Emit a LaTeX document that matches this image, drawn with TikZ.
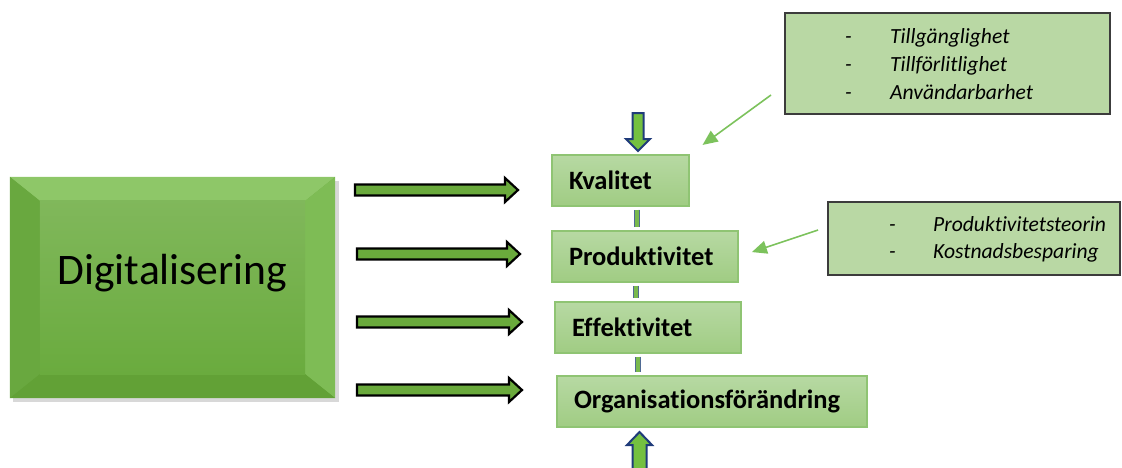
\documentclass[tikz,border=0pt]{standalone}
\usepackage{fontspec}
\setmainfont{Carlito}[Ligatures=NoCommon]
\usetikzlibrary{arrows.meta,calc}

\definecolor{bigfill}{HTML}{6AAB3E}
\definecolor{bigtop}{HTML}{8EC768}
\definecolor{bigleft}{HTML}{69A83F}
\definecolor{bigright}{HTML}{7EBC55}
\definecolor{bigbottom}{HTML}{62A136}
\definecolor{stagetop}{HTML}{B7D9A3}
\definecolor{stagebot}{HTML}{A0CC83}
\definecolor{stageline}{HTML}{8FC473}
\definecolor{notefill}{HTML}{B9D8A4}
\definecolor{noteline}{HTML}{3C3C3C}
\definecolor{pointergreen}{HTML}{7CC25C}
\definecolor{flowfill}{HTML}{6AAA3C}
\definecolor{inputfill}{HTML}{74C040}
\definecolor{inputline}{HTML}{1F3B7A}
\definecolor{linkline}{HTML}{4F6A94}
\definecolor{linkfill}{HTML}{79B94D}

% right-pointing block arrow: \flowarrow{x start}{x tip}{y}
\newcommand\flowarrow[3]{%
  \draw[flowarrowstyle]
    (#1,#3-5.5) -- (#2-13,#3-5.5) -- (#2-13,#3-12) -- (#2,#3)
    -- (#2-13,#3+12) -- (#2-13,#3+5.5) -- (#1,#3+5.5) -- cycle;}

\tikzset{
  flowarrowstyle/.style={draw=black, line width=2.2pt, fill=flowfill, line join=miter},
  stage/.style={draw=stageline, line width=1.3pt, top color=stagetop, bottom color=stagebot,
    minimum height=51pt, inner xsep=17pt, inner ysep=0pt, align=left,
    font=\bfseries\fontsize{26.5}{30}\selectfont},
  note/.style={draw=noteline, line width=1.4pt, fill=notefill, inner sep=0pt},
  notetext/.style={align=left, inner sep=0pt, font=\itshape\fontsize{21.6}{28}\selectfont},
  pointer/.style={draw=pointergreen, line width=1.6pt,
    -{Triangle[length=15pt,width=13pt]}},
  inputarrow/.style={draw=inputline, line width=2pt, fill=inputfill, line join=miter},
  link/.style={draw=linkline, line width=1.2pt, double=linkfill, double distance=3.6pt,
    shorten <=3pt, shorten >=3pt},
}

\begin{document}
\begin{tikzpicture}[x=1pt, y=-1pt]
\useasboundingbox (0,0) rectangle (1122,467);
\begin{scope}
\clip (0,0) rectangle (1122,467);

% --- bevelled source block ---
\fill[black!30, opacity=0.5] (13,181) rectangle (339,402);
\node[draw=none, fill=bigfill, minimum width=325pt, minimum height=221pt, inner sep=0pt]
  (dig) at (172.5,287.5) {};
\fill[bigtop]    (dig.north west) -- (dig.north east) -- ++(-30,24) -- ($(dig.north west)+(30,24)$) -- cycle;
\fill[bigleft]   (dig.north west) -- ($(dig.north west)+(30,24)$) -- ($(dig.south west)+(30,-24)$) -- (dig.south west) -- cycle;
\fill[bigright]  (dig.north east) -- ($(dig.north east)+(-30,24)$) -- ($(dig.south east)+(-30,-24)$) -- (dig.south east) -- cycle;
\fill[bigbottom] (dig.south west) -- ($(dig.south west)+(30,-24)$) -- ($(dig.south east)+(-30,-24)$) -- (dig.south east) -- cycle;
\shade[top color=bigfill!85!white, bottom color=bigfill]
  ($(dig.north west)+(30,24)$) rectangle ($(dig.south east)+(-30,-24)$);
\node[font=\fontsize{43.6}{50}\selectfont, inner sep=0pt] (digtext) at ($(dig.center)+(0,-14)$) {Digitalisering};

% --- block arrows from the source block ---
\flowarrow{355}{518}{190}
\flowarrow{357}{520}{254}
\flowarrow{357}{522}{322}
\flowarrow{357}{522}{390}

% --- stage boxes ---
\node[stage, text width=103pt] (kval) at (620.5,180.5) {\mbox{Kvalitet}};
\node[stage, text width=152pt] (prod) at (645,256.5) {\mbox{Produktivitet}};
\node[stage, text width=152pt] (eff)  at (648,327.5) {\mbox{Effektivitet}};
\node[stage, text width=276pt] (org)  at (712,401.5) {\mbox{Organisationsförändring}};

% --- links between stages ---
\coordinate (barx) at (637,0);
\draw[link] (kval.south -| barx) -- (prod.north -| barx);
\draw[link] ($(prod.south -| barx)+(-1,0)$) -- ($(eff.north -| barx)+(-1,0)$);
\draw[link] ($(eff.south -| barx)+(1,0)$) -- ($(org.north -| barx)+(1,0)$);

% --- input arrows into the chain ---
\draw[inputarrow] (632.5,113) -- (643.5,113) -- (643.5,139) -- (650,139) -- (638,151)
  -- (626,139) -- (632.5,139) -- cycle;
\draw[inputarrow] (632.5,472) -- (646.5,472) -- (646.5,445) -- (652,445) -- (639.5,432)
  -- (627,445) -- (632.5,445) -- cycle;

% --- note boxes ---
\node[note, minimum width=325pt, minimum height=101pt] (qual) at (947.5,63.5) {};
\node[notetext, anchor=west] (qualtext) at (845,64)
  {\makebox[45pt][l]{-}Tillgänglighet\\
   \makebox[45pt][l]{-}Tillförlitlighet\\
   \makebox[45pt][l]{-}Användarbarhet};
\node[note, minimum width=292pt, minimum height=73pt] (theory) at (974,238.5) {};
\node[notetext, anchor=west, font=\itshape\fontsize{21.6}{27}\selectfont] (theorytext) at (889,239.5)
  {\makebox[44pt][l]{-}Produktivitetsteorin\\
   \makebox[44pt][l]{-}Kostnadsbesparing};

% --- pointers from notes ---
\coordinate (qualsrc) at (771,95);
\coordinate (theorysrc) at (818,230);
\draw[pointer, shorten >=16pt] (qualsrc) -- (kval.north east);
\draw[pointer, shorten >=14pt] (theorysrc) -- (prod.east);
\end{scope}
\end{tikzpicture}
\end{document}
